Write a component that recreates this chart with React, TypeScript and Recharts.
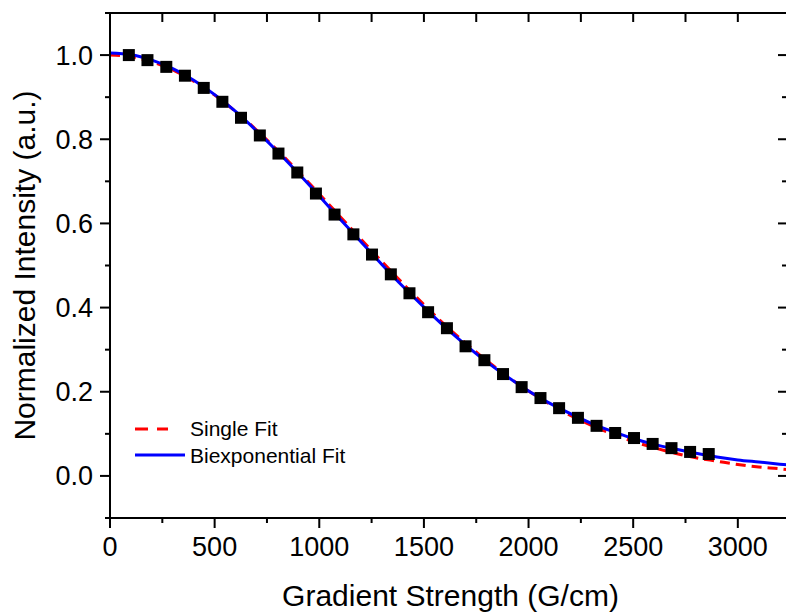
import { ComposedChart, Line, Scatter, XAxis, YAxis, Legend, Label } from 'recharts'

// ---------------------------------------------------------------------------
// Gradient strength vs normalized intensity, with single and biexponential fits
// ---------------------------------------------------------------------------

const FONT = '"Liberation Sans", Arial, Helvetica, sans-serif'

// measured points
const pointG = [90, 179, 269, 358, 448, 537, 626, 716, 805, 895, 984, 1073, 1163, 1252, 1342, 1431,
    1520, 1610, 1699, 1789, 1878, 1967, 2057, 2146, 2236, 2325, 2414, 2504, 2593, 2683, 2772, 2861]
const pointI = [1.0, 0.988, 0.972, 0.951, 0.922, 0.889, 0.851, 0.809, 0.766, 0.721, 0.671, 0.621,
    0.574, 0.526, 0.479, 0.434, 0.389, 0.351, 0.308, 0.275, 0.242, 0.211, 0.185, 0.161, 0.138,
    0.119, 0.102, 0.090, 0.076, 0.066, 0.057, 0.052]

// fit curves
const fitG = [0, 100, 200, 300, 400, 500, 600, 700, 800, 900, 1000, 1100, 1200, 1300, 1400, 1500,
    1600, 1700, 1800, 1900, 2000, 2100, 2200, 2300, 2400, 2500, 2600, 2700, 2800, 2900, 3000,
    3100, 3200, 3240]
const singleFit = [1.0, 0.996, 0.984, 0.965, 0.938, 0.905, 0.866, 0.822, 0.774, 0.723, 0.670,
    0.616, 0.562, 0.509, 0.457, 0.407, 0.359, 0.315, 0.274, 0.236, 0.202, 0.171, 0.144, 0.120,
    0.100, 0.082, 0.067, 0.054, 0.043, 0.035, 0.027, 0.021, 0.017, 0.015]
const biexpFit = [1.005, 1.001, 0.988, 0.968, 0.940, 0.906, 0.866, 0.820, 0.771, 0.719, 0.665,
    0.610, 0.556, 0.502, 0.450, 0.401, 0.354, 0.311, 0.271, 0.235, 0.202, 0.173, 0.148, 0.125,
    0.106, 0.089, 0.075, 0.064, 0.054, 0.045, 0.038, 0.033, 0.028, 0.026]

// axis ticks
const xTicks = [0, 250, 500, 750, 1000, 1250, 1500, 1750, 2000, 2250, 2500, 2750, 3000]
const yTicks = [-0.1, 0, 0.1, 0.2, 0.3, 0.4, 0.5, 0.6, 0.7, 0.8, 0.9, 1.0, 1.1]

const points = pointG.map((g, i) => ({ g, v: pointI[i] }))
const singleData = fitG.map((g, i) => ({ g, v: singleFit[i] }))
const biexpData = fitG.map((g, i) => ({ g, v: biexpFit[i] }))

const isMajorX = (v: number) => v % 500 === 0
const isMajorY = (v: number) => Math.round(v * 10) % 2 === 0 && v >= 0 && v <= 1

const BottomTick = (props: any) => {
    const { x, y, payload } = props
    const major = isMajorX(payload.value)
    return (
        <g>
            <rect x={x - 1} y={y} width={2} height={major ? 10 : 5} fill="#000" />
            {major && (
                <text x={x} y={y + 38} textAnchor="middle" fontSize={27} fontFamily={FONT} fill="#000">
                    {payload.value}
                </text>
            )}
        </g>
    )
}

const TopTick = (props: any) => {
    const { x, y } = props
    return <rect x={x - 1} y={y} width={2} height={9} fill="#000" />
}

const LeftTick = (props: any) => {
    const { x, y, payload } = props
    const major = isMajorY(payload.value)
    const len = major ? 10 : 5
    return (
        <g>
            <rect x={x - len} y={y - 1} width={len} height={2} fill="#000" />
            {major && (
                <text x={x - 17} y={y + 9.5} textAnchor="end" fontSize={27} fontFamily={FONT} fill="#000">
                    {Number(payload.value).toFixed(1)}
                </text>
            )}
        </g>
    )
}

const RightTick = (props: any) => {
    const { x, y, payload } = props
    const len = isMajorY(payload.value) ? 9 : 5
    return <rect x={x - len} y={y - 1} width={len} height={2} fill="#000" />
}

const Square = (props: any) => (
    <rect x={props.cx - 6} y={props.cy - 6} width={12} height={12} fill="#000" />
)

const renderLegend = () => (
    <svg width={260} height={60} style={{ display: 'block' }}>
        <line x1={5} x2={38} y1={14} y2={14} stroke="#ff0000" strokeWidth={3} strokeDasharray="13 9" />
        <text x={60} y={21} fontSize={21} fontFamily={FONT} fill="#000">Single Fit</text>
        <line x1={5} x2={55} y1={40} y2={40} stroke="#0000ff" strokeWidth={3} />
        <text x={60} y={48} fontSize={21} fontFamily={FONT} fill="#000">Biexponential Fit</text>
    </svg>
)

export default function App() {
    return (
        <div style={{ position: 'absolute', left: 0, top: 0, background: '#fff' }}>
            <ComposedChart width={800} height={612} margin={{ top: 12, right: 12, bottom: 0, left: 0 }}>
                <XAxis
                    xAxisId="bottom"
                    dataKey="g"
                    type="number"
                    domain={[0, 3235]}
                    allowDataOverflow
                    ticks={xTicks}
                    interval={0}
                    height={94}
                    tickSize={0}
                    tickMargin={0}
                    tickLine={false}
                    tick={<BottomTick />}
                    axisLine={{ stroke: '#000', strokeWidth: 2 }}
                >
                    <Label
                        content={(p: any) => {
                            const vb = p.viewBox || { x: 110, y: 518, width: 677 }
                            return (
                                <text x={vb.x + vb.width / 2 + 2} y={vb.y + 88} textAnchor="middle"
                                    fontSize={30} fontFamily={FONT} fill="#000">
                                    Gradient Strength (G/cm)
                                </text>
                            )
                        }}
                    />
                </XAxis>
                <XAxis
                    xAxisId="top"
                    orientation="top"
                    dataKey="g"
                    type="number"
                    domain={[0, 3235]}
                    allowDataOverflow
                    ticks={xTicks}
                    interval={0}
                    height={1}
                    tickSize={0}
                    tickMargin={0}
                    tickLine={false}
                    tick={<TopTick />}
                    axisLine={{ stroke: '#000', strokeWidth: 2 }}
                />
                <YAxis
                    yAxisId="left"
                    type="number"
                    domain={[-0.1, 1.1]}
                    allowDataOverflow
                    ticks={yTicks}
                    interval={0}
                    width={110}
                    tickSize={0}
                    tickMargin={0}
                    tickLine={false}
                    tick={<LeftTick />}
                    axisLine={{ stroke: '#000', strokeWidth: 2 }}
                >
                    <Label
                        content={(p: any) => {
                            const vb = p.viewBox || { y: 13, height: 505 }
                            const cy = vb.y + vb.height / 2
                            return (
                                <text transform={`translate(35, ${cy}) rotate(-90)`} textAnchor="middle"
                                    fontSize={30} fontFamily={FONT} fill="#000">
                                    Normalized Intensity (a.u.)
                                </text>
                            )
                        }}
                    />
                </YAxis>
                <YAxis
                    yAxisId="right"
                    orientation="right"
                    type="number"
                    domain={[-0.1, 1.1]}
                    allowDataOverflow
                    ticks={yTicks}
                    interval={0}
                    width={1}
                    tickSize={0}
                    tickMargin={0}
                    tickLine={false}
                    tick={<RightTick />}
                    axisLine={{ stroke: '#000', strokeWidth: 2 }}
                />
                <Legend
                    layout="horizontal"
                    verticalAlign="middle"
                    align="center"
                    content={renderLegend}
                    wrapperStyle={{ left: 130, top: 415, width: 260, height: 60 }}
                />
                <Scatter
                    xAxisId="top"
                    yAxisId="right"
                    data={points}
                    dataKey="v"
                    shape={<Square />}
                    isAnimationActive={false}
                    legendType="none"
                />
                <Line
                    xAxisId="bottom"
                    yAxisId="left"
                    data={singleData}
                    dataKey="v"
                    type="monotone"
                    stroke="#ff0000"
                    strokeWidth={3}
                    strokeDasharray="10 6"
                    dot={false}
                    activeDot={false}
                    isAnimationActive={false}
                />
                <Line
                    xAxisId="bottom"
                    yAxisId="left"
                    data={biexpData}
                    dataKey="v"
                    type="monotone"
                    stroke="#0000ff"
                    strokeWidth={3}
                    dot={false}
                    activeDot={false}
                    isAnimationActive={false}
                />
            </ComposedChart>
        </div>
    )
}
